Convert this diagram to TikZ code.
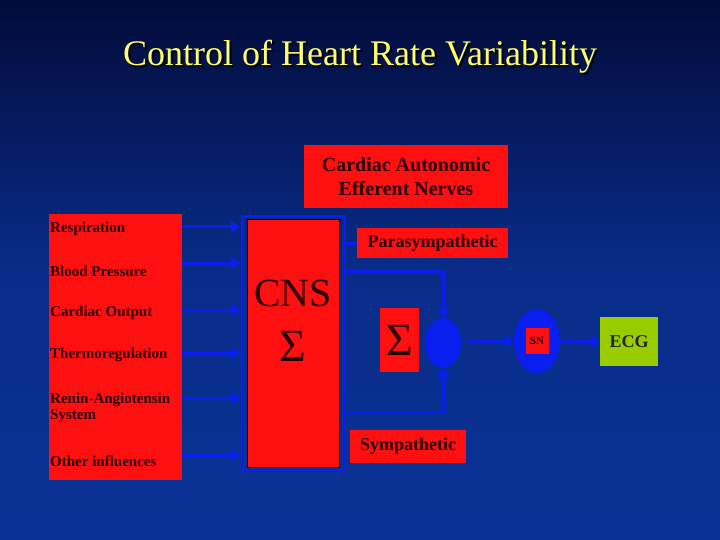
\documentclass[tikz,border=0pt]{standalone}
\usepackage{fontspec}
\setmainfont{Liberation Serif}
\usetikzlibrary{arrows.meta,shapes.geometric}
\definecolor{bgtop}{HTML}{020B3A}
\definecolor{bgbot}{HTML}{0A3296}
\definecolor{ln}{HTML}{0A1EF0}
\definecolor{rd}{HTML}{FF1010}
\definecolor{tx}{HTML}{2A0000}
\definecolor{ttl}{HTML}{FFFF66}
\definecolor{ecg}{HTML}{99CC00}
\tikzset{
  lab/.style={font=\bfseries\fontsize{15}{16}\selectfont, text=tx, inner sep=1pt},
  redbox/.style={fill=rd, draw=none, inner sep=0pt},
  conn/.style={draw=ln, line width=3pt},
  arr/.style={conn, -{Triangle[length=9pt,width=13pt]}}
}
\begin{document}
\begin{tikzpicture}[x=1pt,y=-1pt]
\shade[top color=bgtop, bottom color=bgbot, middle color=bgbot!85!bgtop] (0,0) rectangle (720,540);
\useasboundingbox (0,0) rectangle (720,540);
\node[text=black, font=\fontsize{36}{38}\selectfont] at (362,59) {Control of Heart Rate Variability};
\node[text=ttl, font=\fontsize{36}{38}\selectfont] (title) at (360,57) {Control of Heart Rate Variability};
% left box
\node[redbox, minimum width=133pt, minimum height=266pt] (inputs) at (115.5,347) {};
\node[lab, anchor=west] (r1) at (49,229) {Respiration};
\node[lab, anchor=west] (r2) at (49,271) {Blood Pressure};
\node[lab, anchor=west] (r3) at (49,313) {Cardiac Output};
\node[lab, anchor=west] (r4) at (49,355) {Thermoregulation};
\node[lab, anchor=west, align=left] (r5) at (49,408) {Renin-Angiotensin\\System};
\node[lab, anchor=west] (r6) at (49,461) {Other influences};
% CNS
\node[draw=ln, line width=3pt, minimum width=102pt, minimum height=254pt, inner sep=0pt] (frame) at (293,343.5) {};
\node[fill=rd, draw=black, line width=1pt, minimum width=92pt, minimum height=247pt, inner sep=0pt] (cns) at (293,343.5) {};
\node[font=\fontsize{40}{42}\selectfont, text=tx] (cnst) at (293,293) {CNS};
\node[font=\fontsize{46}{48}\selectfont, text=tx] (cnss) at (293,346) {Σ};
\foreach \y/\n in {227/a,263/b,310/c,353/d,398/e,455/f}{
  \coordinate (s\n) at (182,\y);
  \coordinate (t\n) at (240,\y);
  \draw[arr] (s\n) -- (t\n);
}
% top boxes
\node[redbox, minimum width=204pt, minimum height=63pt, align=center, lab, font=\bfseries\fontsize{20}{24}\selectfont] (caen) at (406,176.5) {Cardiac Autonomic\\Efferent Nerves};
\node[redbox, minimum width=151pt, minimum height=30pt, lab, font=\bfseries\fontsize{18}{20}\selectfont] (para) at (432.5,243) {Parasympathetic};
\node[redbox, minimum width=116pt, minimum height=33pt, lab, font=\bfseries\fontsize{18}{20}\selectfont] (symp) at (408,446.5) {Sympathetic};
\coordinate (pa) at (345,243);
\draw[conn] (pa) -- (para.west);
% sigma
\node[redbox, minimum width=39pt, minimum height=64pt, font=\fontsize{46}{48}\selectfont, text=tx] (sig) at (399.5,340) {Σ};
\node[ellipse, fill=ln, minimum width=36pt, minimum height=50pt, inner sep=0pt] (node) at (443,343) {};
\coordinate (u1) at (345,271);
\coordinate (u2) at (443,271);
\coordinate (l1) at (345,412);
\coordinate (l2) at (443,412);
\draw[conn] (u1) -- (u2);
\draw[arr] (u2) -- (node.north);
\draw[conn] (l1) -- (l2);
\draw[arr] (l2) -- (node.south);
% SN
\node[ellipse, fill=ln, minimum width=46pt, minimum height=64pt, inner sep=0pt] (sn) at (537,341) {};
\node[redbox, minimum width=23pt, minimum height=26pt, font=\bfseries\fontsize{11}{12}\selectfont, text=tx] (snl) at (537,341) {SN};
\node[fill=ecg, minimum width=58pt, minimum height=49pt, inner sep=0pt, lab, font=\bfseries\fontsize{18}{20}\selectfont, text=black!85] (ecgb) at (629,341.5) {ECG};
\coordinate (ne) at (467,342);
\draw[arr] (ne) -- (sn.west);
\draw[arr] (sn.east) -- (ecgb.west);
\end{tikzpicture}
\end{document}
